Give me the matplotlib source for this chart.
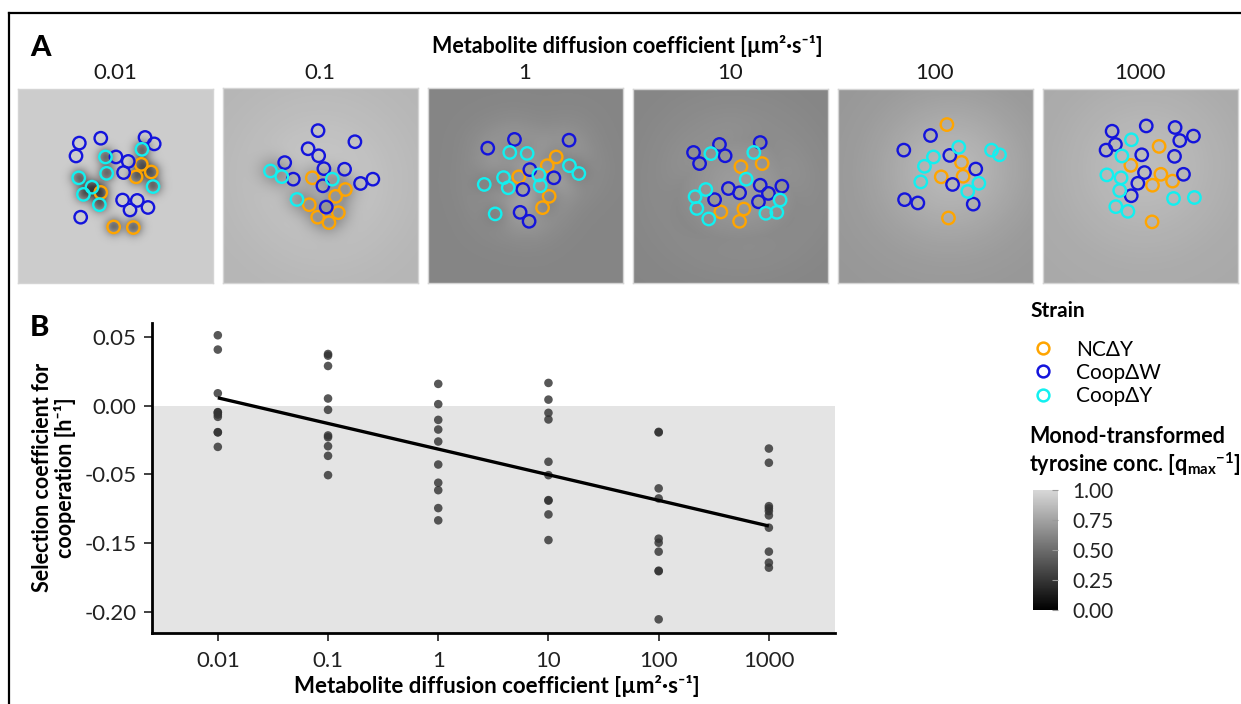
import numpy as np
import matplotlib
matplotlib.use('Agg')
import matplotlib.pyplot as plt
from matplotlib.colors import LinearSegmentedColormap, Normalize
from matplotlib.lines import Line2D
import matplotlib.cm as cm

plt.rcParams['font.family'] = ['Lato', 'DejaVu Sans']
plt.rcParams['mathtext.fontset'] = 'custom'
plt.rcParams['mathtext.rm'] = 'Lato'
plt.rcParams['mathtext.bf'] = 'Lato:bold'
plt.rcParams['mathtext.it'] = 'Lato:italic'

# ---------------- data ----------------
diffusion = [0.01, 0.1, 1, 10, 100, 1000]
diff_labels = ['0.01', '0.1', '1', '10', '100', '1000']
strain_names = ['NCΔY', 'CoopΔW', 'CoopΔY']
strain_colors = ['#ffa500', '#1414dc', '#12f0f0']

# cell positions (x, y) in panel units 0-100 (y downward), one list per panel
nc_cells = [
    [(63.5, 38.9), (68.6, 42.8), (60.8, 45.3), (42.7, 53.3), (49.3, 71.0), (59.4, 71.3)],
    [(46.1, 45.8), (63.0, 51.8), (58.0, 55.3), (44.5, 59.6), (48.8, 66.0), (54.6, 68.8), (59.4, 63.7)],
    [(66.0, 35.1), (61.4, 39.6), (46.8, 45.3), (62.4, 55.3), (59.0, 61.1)],
    [(55.6, 40.1), (66.5, 38.5), (45.3, 63.3), (57.1, 61.8), (54.9, 68.1)],
    [(56.1, 18.5), (63.6, 37.9), (53.2, 45.3), (64.4, 45.0), (56.9, 66.4)],
    [(59.8, 29.7), (45.3, 39.4), (60.7, 44.0), (56.4, 49.6), (66.7, 47.5), (56.2, 68.4)],
]
coopw_cells = [
    [(31.7, 28.0), (42.7, 25.5), (30.0, 34.6), (65.4, 25.1), (70.1, 28.4), (50.5, 35.1), (56.8, 37.4),
     (54.4, 43.1), (53.9, 57.2), (61.4, 57.4), (57.7, 62.3), (66.9, 61.0), (32.4, 66.0)],
    [(49.0, 21.6), (67.9, 27.3), (43.9, 30.9), (49.3, 34.5), (52.0, 41.1), (62.6, 41.4), (31.9, 38.0),
     (36.3, 46.5), (51.5, 49.9), (70.8, 48.7), (77.1, 46.5), (53.2, 60.8)],
    [(30.9, 30.6), (44.6, 26.1), (72.6, 26.5), (52.5, 41.6), (64.8, 45.8), (48.9, 51.8), (47.5, 63.5),
     (52.1, 68.1)],
    [(31.3, 32.8), (44.6, 28.7), (47.5, 34.5), (65.5, 27.7), (34.4, 38.5), (49.2, 51.3), (54.9, 53.5),
     (65.5, 49.6), (69.7, 53.8), (76.6, 50.1), (64.6, 58.1), (42.1, 57.0)],
    [(47.7, 24.1), (34.0, 31.6), (57.6, 34.3), (70.9, 41.3), (59.0, 49.2), (34.4, 57.0), (41.2, 58.7),
     (69.6, 59.3)],
    [(35.7, 21.9), (53.2, 19.2), (68.0, 20.0), (77.4, 24.4), (70.4, 26.7), (37.4, 28.7), (32.6, 31.6),
     (50.9, 34.0), (67.7, 34.8), (52.3, 43.1), (72.3, 44.0), (48.9, 48.6), (45.5, 55.0)],
]
coopy_cells = [
    [(45.1, 35.1), (63.8, 31.2), (45.7, 43.5), (31.4, 45.8), (38.2, 50.6), (33.8, 54.3), (42.0, 59.6),
     (69.5, 50.3)],
    [(24.6, 42.3), (30.4, 45.2), (56.3, 46.5), (38.2, 56.9)],
    [(42.2, 32.8), (51.1, 33.3), (72.8, 39.6), (77.6, 43.6), (39.0, 45.7), (57.1, 44.3), (57.8, 49.9),
     (41.4, 50.9), (29.1, 49.2), (34.7, 64.3)],
    [(40.2, 33.4), (62.2, 32.8), (58.3, 46.5), (37.6, 51.8), (32.1, 55.5), (33.0, 61.5), (39.1, 66.9),
     (75.7, 57.2), (68.4, 64.0), (74.0, 63.5)],
    [(62.2, 30.1), (49.2, 35.1), (44.6, 39.9), (79.0, 31.6), (83.1, 34.0), (42.7, 47.9), (72.5, 48.6),
     (66.8, 52.8)],
    [(45.6, 26.3), (40.7, 34.6), (33.0, 44.3), (40.3, 45.8), (39.6, 52.3), (37.6, 60.6), (43.8, 63.0),
     (67.2, 56.4), (77.9, 55.9)],
]

# selection coefficient for cooperation, per diffusion coefficient (axis units)
sel_001 = [0.0510, 0.0406, 0.0089, -0.0048, -0.0050, -0.0065, -0.0082, -0.0193, -0.0195, -0.0300]
sel_01 = [0.0374, 0.0362, 0.0287, 0.0051, -0.0031, -0.0217, -0.0230, -0.0295, -0.0365, -0.0505]
sel_1 = [0.0157, 0.0010, -0.0104, -0.0174, -0.0261, -0.0428, -0.0560, -0.0614, -0.0744, -0.0833]
sel_10 = [0.0164, 0.0043, -0.0053, -0.0101, -0.0408, -0.0505, -0.0686, -0.0690, -0.0790, -0.0976]
sel_100 = [-0.0191, -0.0195, -0.0601, -0.0674, -0.0966, -0.0995, -0.1060, -0.1198, -0.1202, -0.1551]
sel_1000 = [-0.0312, -0.0415, -0.0730, -0.0746, -0.0766, -0.0797, -0.0886, -0.1060, -0.1140, -0.1176]
selection = [sel_001, sel_01, sel_1, sel_10, sel_100, sel_1000]

trend_x = [0.01, 1000]
trend_y = [0.0056, -0.0874]

ytick_pos = [0.05, 0.0, -0.05, -0.10, -0.15]
ytick_labels = ['0.05', '0.00', '-0.05', '-0.15', '-0.20']
cbar_ticks = [0.0, 0.25, 0.5, 0.75, 1.0]

# rendering parameters of the tyrosine field per panel
field_base = [0.945, 0.84, 0.62, 0.62, 0.70, 0.78]
prod_amp = [0.0, 0.08, 0.22, 0.14, 0.15, 0.09]
prod_sigma = [10, 25, 9, 18, 22, 25]
cons_amp = [0.7, 0.22, 0.12, 0.04, 0.0, 0.0]
cons_sigma = [3.2, 5, 5, 10, 10, 10]

# ---------------- figure ----------------
W, H = 1241, 704
fig = plt.figure(figsize=(W / 100, H / 100), dpi=100)


def fx(px):
    return px / W


def fy(py):
    return 1 - py / H


tyr_cmap = LinearSegmentedColormap.from_list('tyr', ['#000000', '#d8d8d8'])

# outer frame (left and top)
fig.add_artist(Line2D([fx(8.5), fx(8.5)], [0, fy(12.5)], transform=fig.transFigure, color='black', lw=1.6))
fig.add_artist(Line2D([fx(8.5), 1], [fy(12.5), fy(12.5)], transform=fig.transFigure, color='black', lw=1.6))

fig.text(fx(30), fy(48), 'A', fontsize=21, fontweight='black', va='center', ha='left')
fig.text(fx(30), fy(328), 'B', fontsize=21, fontweight='black', va='center', ha='left')

fig.text(fx(627), fy(46), 'Metabolite diffusion coefficient [µm²·s⁻¹]', fontsize=15.5,
         fontweight='bold', ha='center', va='center')

panel_x0 = [17.5, 222.5, 427.5, 632.5, 837.5, 1042.5]
gx, gy = np.meshgrid(np.linspace(0, 100, 220), np.linspace(0, 100, 220))


def gauss_sum(cells, sigma):
    total = np.zeros_like(gx)
    for (cx, cy) in cells:
        total += np.exp(-((gx - cx) ** 2 + (gy - cy) ** 2) / (2 * sigma ** 2))
    return total


for i in range(6):
    ax = fig.add_axes([fx(panel_x0[i]), fy(284), fx(195), 196 / H])
    field = np.full_like(gx, field_base[i])
    if prod_amp[i] > 0:
        p = gauss_sum(coopw_cells[i] + coopy_cells[i] + nc_cells[i], prod_sigma[i])
        field += prod_amp[i] * p / p.max()
    if cons_amp[i] > 0:
        c = gauss_sum(nc_cells[i] + coopy_cells[i], cons_sigma[i])
        field -= cons_amp[i] * np.clip(c, 0, 1.6) / 1.6
    ax.imshow(np.clip(field, 0, 1), cmap=tyr_cmap, vmin=0, vmax=1, extent=(0, 100, 100, 0),
              interpolation='bilinear')
    for cells, col in zip([nc_cells[i], coopw_cells[i], coopy_cells[i]],
                          strain_colors):
        xs = [c[0] for c in cells]
        ys = [c[1] for c in cells]
        ax.scatter(xs, ys, s=80, facecolors='none', edgecolors=col, linewidths=1.7, zorder=3)
    ax.set_xlim(0, 100)
    ax.set_ylim(100, 0)
    ax.set_xticks([])
    ax.set_yticks([])
    for s in ax.spines.values():
        s.set_color('#d4d4d4')
        s.set_linewidth(1.0)
    fig.text(fx(panel_x0[i] + 97.5), fy(73), diff_labels[i], fontsize=16, ha='center', va='center',
             color='#1a1a1a')

# ---------------- panel B ----------------
ax = fig.add_axes([fx(151.7), fy(632.7), fx(835 - 151.7), (632.7 - 322.7) / H])
ax.set_xscale('log')
ax.set_xlim(10 ** -2.6, 10 ** 3.6)
ax.set_ylim(-0.1648, 0.0601)
ax.axhspan(-0.1648, 0.0, color='#e4e4e4', zorder=0, lw=0)
for d, vals in zip(diffusion, selection):
    ax.scatter([d] * len(vals), vals, s=38, color='#333333', alpha=0.82, edgecolors='none', zorder=3)
ax.plot(trend_x, trend_y, color='black', lw=2.4, zorder=4, solid_capstyle='butt')

ax.set_xticks(diffusion)
ax.set_xticklabels(diff_labels)
ax.xaxis.set_minor_locator(matplotlib.ticker.NullLocator())
ax.set_yticks(ytick_pos)
ax.set_yticklabels(ytick_labels)
ax.tick_params(axis='both', labelsize=16, length=6, width=1.3, color='#333333', labelcolor='#222222')
ax.tick_params(axis='x', pad=7)
ax.tick_params(axis='y', pad=5)
for s in ['top', 'right']:
    ax.spines[s].set_visible(False)
for s in ['left', 'bottom']:
    ax.spines[s].set_linewidth(2.0)
    ax.spines[s].set_color('black')
ax.set_facecolor('white')

ax.set_xlabel('Metabolite diffusion coefficient [µm²·s⁻¹]', fontsize=16, fontweight='bold')
ax.xaxis.set_label_coords(0.505, -0.172)
ax.xaxis.label.set_va('center')
ax.set_ylabel('Selection coefficient for\ncooperation [h⁻¹]', fontsize=15.5, fontweight='bold',
              linespacing=1.1)
ax.yaxis.set_label_coords(-0.143, 0.5)
ax.yaxis.label.set_va('center')

# ---------------- legend ----------------
handles = [Line2D([], [], marker='o', ls='none', markerfacecolor='none', markeredgecolor=c,
                  markeredgewidth=1.8, markersize=8.5) for c in strain_colors]
fig.text(fx(1030), fy(311), 'Strain', fontsize=15, fontweight='bold', ha='left', va='center')
leg = fig.legend(handles, strain_names, loc='upper left',
                 bbox_to_anchor=(fx(1016), fy(325)), frameon=False, fontsize=15,
                 handletextpad=1.0, labelspacing=0.15, borderpad=0.2, handlelength=1.2)

fig.text(fx(1029), fy(452), 'Monod-transformed\ntyrosine conc. [q$_{\\mathbf{max}}$$^{\\mathbf{-1}}$]',
         fontsize=15.5, fontweight='bold', ha='left', va='center', linespacing=1.2)

cax = fig.add_axes([fx(1033), fy(610), fx(25), 120 / H])
cb = fig.colorbar(cm.ScalarMappable(norm=Normalize(0, 1), cmap=tyr_cmap), cax=cax)
cb.set_ticks(cbar_ticks)
cb.set_ticklabels(['0.00', '0.25', '0.50', '0.75', '1.00'])
cb.outline.set_visible(False)
cax.tick_params(labelsize=15, length=4, width=0.8, color='#9a9a9a', direction='in', pad=10,
                labelcolor='#222222')

fig.savefig('out.png', dpi=100)
